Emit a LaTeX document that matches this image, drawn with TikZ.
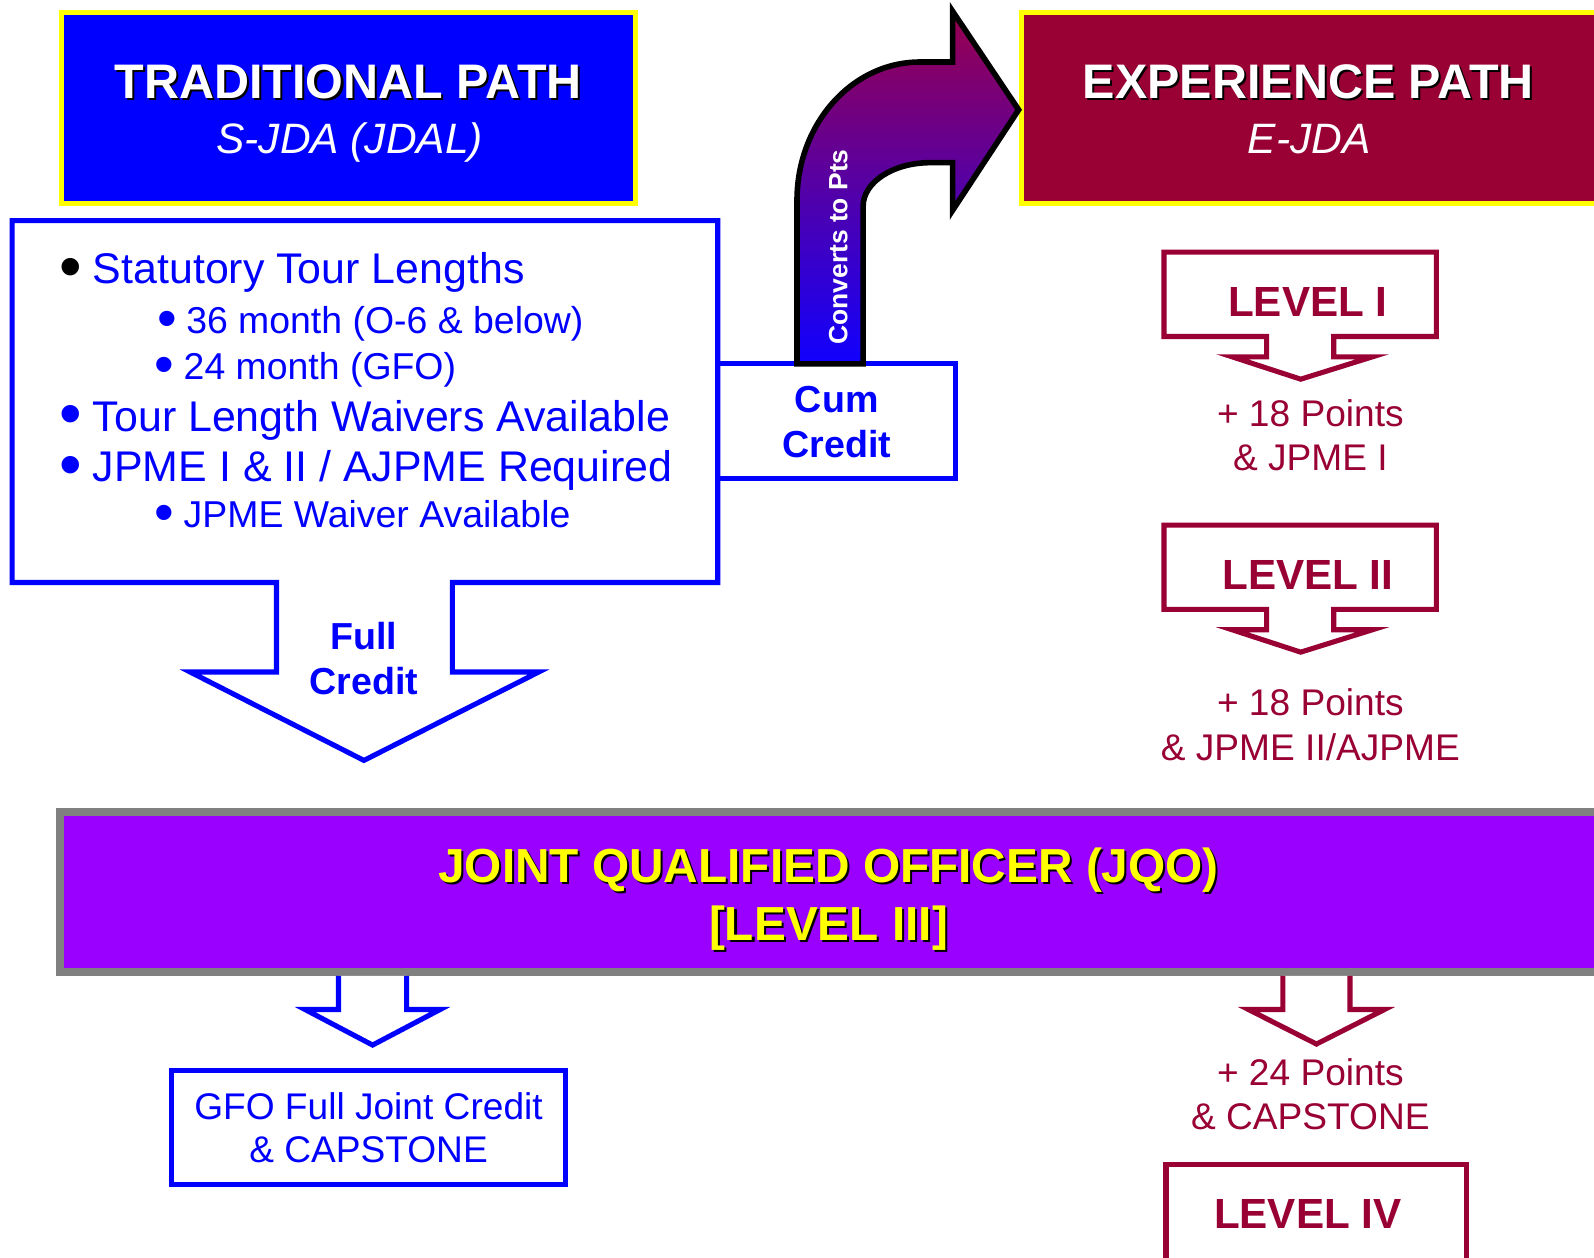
\documentclass[tikz,border=0pt]{standalone}
\usepackage{fontspec}
\usepackage{graphicx}
\setmainfont{Liberation Sans}
\definecolor{tblue}{HTML}{0000FF}
\definecolor{mar}{HTML}{990033}
\definecolor{jqo}{HTML}{9900FF}
\definecolor{ggray}{HTML}{808080}
\definecolor{yel}{HTML}{FFFF00}
\definecolor{arrtop}{HTML}{99004D}
\definecolor{arrmid}{HTML}{7800AA}
\definecolor{arrbot}{HTML}{1000FF}
\newcommand\fs[1]{\fontsize{#1}{#1}\selectfont}
\newcommand\shad[2]{\leavevmode\rlap{\kern2pt\raisebox{-2pt}{\textcolor{black}{#2}}}\textcolor{#1}{#2}}
\newcommand\bul[1]{\raisebox{-0.115em}{\scalebox{1.5}{\textcolor{#1}{\char"2022}}}\hspace{0.25em}}
\begin{document}
\begin{tikzpicture}[x=1pt,y=-1pt,line join=miter,
  box/.style={inner sep=0pt,outer sep=0pt},
  blueline/.style={draw=tblue,line width=5pt},
  marline/.style={draw=mar,line width=5pt},
  txt/.style={inner sep=0pt,anchor=base},
  ltxt/.style={inner sep=0pt,anchor=base west,text=tblue}]
\useasboundingbox (0,0) rectangle (1568,1237);
\clip (0,0) rectangle (1568,1237);

% title boxes
\node[box,draw=yel,line width=5pt,fill=tblue,minimum width=564.8pt,minimum height=187.7pt] (tradbox) at (342.6,106.2) {};
\node[box,draw=yel,line width=5pt,fill=mar,minimum width=615.5pt,minimum height=187.7pt] (expbox) at (1312.25,106.2) {};
\node[txt,font=\bfseries\fs{47.7pt}] (tradT) at (342.5,97) {\shad{white}{TRADITIONAL PATH}};
\node[txt,font=\itshape\fs{41.8pt},text=white] (tradS) at (344,151) {S-JDA (JDAL)};
\node[txt,font=\bfseries\fs{47.7pt}] (expT) at (1287,97) {\shad{white}{EXPERIENCE PATH}};
\node[txt,font=\itshape\fs{41.8pt},text=white] (expS) at (1288,151) {E-JDA};

% cum credit box
\node[box,blueline,fill=white,minimum width=234pt,minimum height=113pt] (cum) at (823,414.5) {};
% big traditional box with arrow
\draw[blueline,fill=white] (12,217) -- (706,217) -- (706,573) -- (445,573) -- (445,661) -- (530,661) -- (358,748) -- (187,661) -- (272,661) -- (272,573) -- (12,573) -- cycle;

\node[ltxt,font=\fs{42.2pt}] (b1) at (58.5,278.7) {\bul{black}Statutory Tour Lengths};
\node[ltxt,font=\fs{36.8pt}] (b2) at (154.5,328) {\bul{tblue}36 month (O-6 \& below)};
\node[ltxt,font=\fs{36.8pt}] (b3) at (152,373) {\bul{tblue}24 month (GFO)};
\node[ltxt,font=\fs{42.2pt}] (b4) at (58.5,424) {\bul{tblue}Tour Length Waivers Available};
\node[ltxt,font=\fs{42.2pt}] (b5) at (58.5,474) {\bul{tblue}JPME I \& II / AJPME Required};
\node[ltxt,font=\fs{36.8pt}] (b6) at (152,518.5) {\bul{tblue}JPME Waiver Available};

\node[txt,font=\bfseries\fs{37pt},text=tblue] (full1) at (358,639) {Full};
\node[txt,font=\bfseries\fs{37pt},text=tblue] (full2) at (358,683) {Credit};
\node[txt,font=\bfseries\fs{37pt},text=tblue] (cum1) at (823,406) {Cum};
\node[txt,font=\bfseries\fs{37pt},text=tblue] (cum2) at (823,450) {Credit};

% curved arrow
\draw[line width=5.5pt,draw=black,top color=arrtop,middle color=arrmid,bottom color=arrbot]
  (784,358) -- (784,197) .. controls (784,122) and (838,61) .. (905,61) -- (937,61) -- (937,11) -- (1002,108) -- (937,207) -- (937,160) -- (915,160) .. controls (879,160) and (849,179) .. (849,203) -- (849,358) -- cycle;
\node[inner sep=0pt,rotate=90,font=\bfseries\fs{26pt},text=white] (conv) at (824.5,243) {Converts to Pts};

% level boxes
\draw[marline,fill=white] (1145,248) -- (1413,248) -- (1413,331) -- (1312,331) -- (1312,351) -- (1350,351) -- (1279.5,373) -- (1212,351) -- (1246,351) -- (1246,331) -- (1145,331) -- cycle;
\node[txt,font=\bfseries\fs{41.5pt},text=mar] (lv1) at (1286.5,311) {LEVEL I};
\node[txt,font=\fs{36.5pt},text=mar] (p1a) at (1289,419.5) {+ 18 Points};
\node[txt,font=\fs{36.5pt},text=mar] (p1b) at (1289,463) {\& JPME I};

\draw[marline,fill=white] (1145,516.5) -- (1413,516.5) -- (1413,599.5) -- (1312,599.5) -- (1312,619.5) -- (1350,619.5) -- (1279.5,641.5) -- (1212,619.5) -- (1246,619.5) -- (1246,599.5) -- (1145,599.5) -- cycle;
\node[txt,font=\bfseries\fs{41.5pt},text=mar] (lv2) at (1286.5,580) {LEVEL II};
\node[txt,font=\fs{36.5pt},text=mar] (p2a) at (1289,703.5) {+ 18 Points};
\node[txt,font=\fs{36.5pt},text=mar] (p2b) at (1289,748) {\& JPME II/AJPME};

% JQO bar
\node[box,draw=ggray,line width=8pt,fill=jqo,minimum width=1561pt,minimum height=157pt] (jqobar) at (839.5,877.5) {};
\node[txt,font=\bfseries\fs{47pt}] (jqo1) at (815,868) {\shad{yel}{JOINT QUALIFIED OFFICER (JQO)}};
\node[txt,font=\bfseries\fs{47pt}] (jqo2) at (815,925) {\shad{yel}{[LEVEL III]}};

% small arrows
\draw[blueline,fill=white] (333,960) -- (333,993) -- (300,993) -- (366.5,1028) -- (433,993) -- (400,993) -- (400,960);
\draw[marline,fill=white] (1262,960) -- (1262,993) -- (1228,993) -- (1295,1027) -- (1362,993) -- (1328,993) -- (1328,960);

% GFO box
\node[box,blueline,fill=white,minimum width=387pt,minimum height=112pt] (gfo) at (362.5,1109) {};
\node[txt,font=\fs{36.5pt},text=tblue] (gfo1) at (362.5,1101) {GFO Full Joint Credit};
\node[txt,font=\fs{36.5pt},text=tblue] (gfo2) at (362.5,1144) {\& CAPSTONE};

% bottom right
\node[txt,font=\fs{36.5pt},text=mar] (p3a) at (1289,1068) {+ 24 Points};
\node[txt,font=\fs{36.5pt},text=mar] (p3b) at (1289,1111.5) {\& CAPSTONE};
\node[box,marline,fill=white,minimum width=296pt,minimum height=154.5pt] (lv4box) at (1295,1222.75) {};
\node[txt,font=\bfseries\fs{41.5pt},text=mar] (lv4) at (1286.5,1208) {LEVEL IV};
\end{tikzpicture}
\end{document}
